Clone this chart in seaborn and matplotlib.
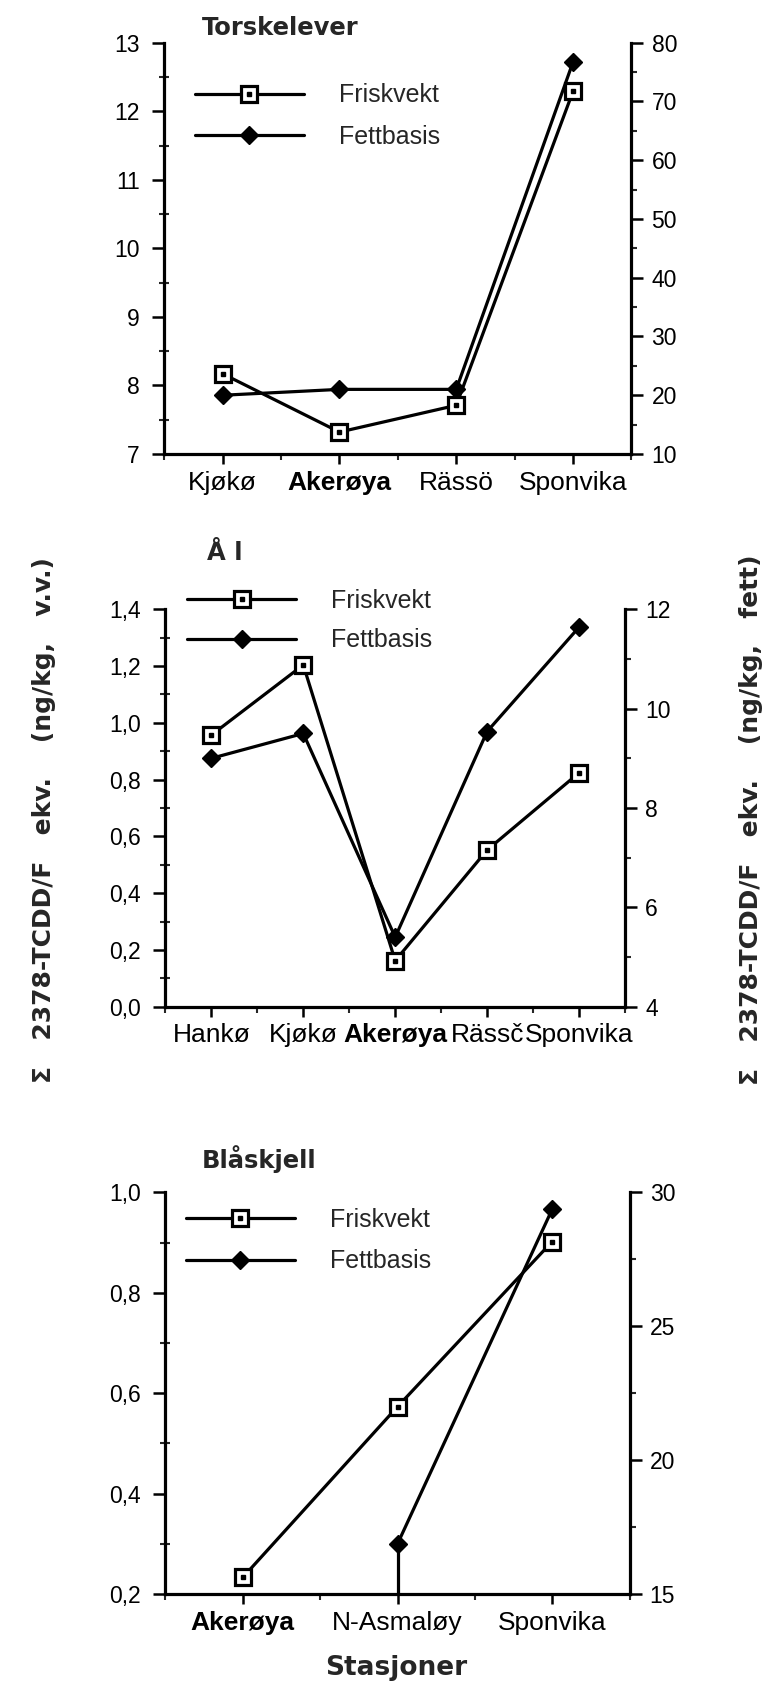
import numpy as np
import pandas as pd
import matplotlib
matplotlib.use("Agg")
import matplotlib.pyplot as plt
from matplotlib.ticker import MultipleLocator, FuncFormatter
import seaborn as sns

sns.set_theme(style="white")
plt.rcParams['font.family'] = ['Liberation Sans', 'DejaVu Sans']

# ---------------- data ----------------
tors_cats = ["Kjøkø", "Akerøya", "Rässö", "Sponvika"]
tors_frisk = [8.17, 7.32, 7.71, 12.29]
tors_fett = [20.0, 21.0, 21.0, 76.7]

aal_cats = ["Hankø", "Kjøkø", "Akerøya", "Rässč", "Sponvika"]
aal_frisk = [0.957, 1.204, 0.162, 0.552, 0.824]
aal_fett = [9.0, 9.5, 5.4, 9.54, 11.64]

blaa_cats = ["Akerøya", "N-Asmaløy", "Sponvika"]
blaa_frisk = [0.233, 0.573, 0.902]
blaa_fett = [np.nan, 16.87, 29.37]

titles = ["Torskelever", "Å l", "Blåskjell"]
series_names = ["Friskvekt", "Fettbasis"]
left_label = "Σ   2378-TCDD/F   ekv.    (ng/kg,   v.v.)"
right_label = "Σ   2378-TCDD/F   ekv.    (ng/kg,   fett)"
xlabel = "Stasjoner"

W, H = 763, 1697
fig = plt.figure(figsize=(W / 100, H / 100), dpi=100)


def frac_box(l, r, t, b):
    return [l / W, 1 - b / H, (r - l) / W, (b - t) / H]


panels = [
    dict(cats=tors_cats, frisk=tors_frisk, fett=tors_fett, box=(164.3, 631.4, 42.7, 454),
         ylim=(7, 13), ymaj=1, ymin=0.5, fmt=lambda v, p: f"{v:.0f}",
         y2lim=(10, 80), y2maj=10, y2min=5,
         leg=(0.065, 0.901), legsp=0.71,
         title_xy=(201.8, 35)),
    dict(cats=aal_cats, frisk=aal_frisk, fett=aal_fett, box=(165.4, 625, 609.3, 1006.7),
         ylim=(0.0, 1.4), ymaj=0.2, ymin=0.1, fmt=lambda v, p: f"{v:.1f}".replace('.', ','),
         y2lim=(4, 12), y2maj=2, y2min=1,
         leg=(0.048, 1.052), legsp=0.63,
         title_xy=(207, 560)),
    dict(cats=blaa_cats, frisk=blaa_frisk, fett=blaa_fett, box=(165.4, 629.6, 1192.3, 1594),
         ylim=(0.2, 1.0), ymaj=0.2, ymin=0.1, fmt=lambda v, p: f"{v:.1f}".replace('.', ','),
         y2lim=(15, 30), y2maj=5, y2min=2.5,
         leg=(0.044, 0.962), legsp=0.71,
         title_xy=(202, 1168)),
]

LW = 2.3
for i, P in enumerate(panels):
    ax = fig.add_axes(frac_box(*P["box"]))
    ax2 = ax.twinx()
    df = pd.DataFrame({"station": P["cats"], "frisk": P["frisk"], "fett": P["fett"]})
    n = len(P["cats"])

    sns.lineplot(data=df, x="station", y="frisk", ax=ax, sort=False, estimator=None,
                 color="black", lw=LW, marker="s", markersize=11,
                 markerfacecolor="white", markeredgecolor="black", markeredgewidth=2.3,
                 zorder=3)
    ax.plot(df["station"], df["frisk"], ls="none", marker="s", markersize=2.5,
            color="black", zorder=4)

    sns.lineplot(data=df, x="station", y="fett", ax=ax2, sort=False, estimator=None,
                 color="black", lw=LW, marker="D", markersize=9.5,
                 markerfacecolor="black", markeredgecolor="black", markeredgewidth=1,
                 zorder=3)
    if i == 2:
        # drop line from N-Asmaløy fettbasis point to the axis
        ax2.vlines(P["cats"][1], P["y2lim"][0], P["fett"][1], color="black", lw=LW)

    ax.set_xlim(-0.5, n - 0.5)
    ax.set_ylim(*P["ylim"])
    ax2.set_ylim(*P["y2lim"])
    ax.set_xlabel("")
    ax.set_ylabel("")
    ax2.set_ylabel("")

    for a in (ax, ax2):
        for s in a.spines.values():
            s.set_visible(False)
    ax.spines["left"].set_visible(True)
    ax.spines["bottom"].set_visible(True)
    ax2.spines["right"].set_visible(True)
    for s in (ax.spines["left"], ax.spines["bottom"], ax2.spines["right"]):
        s.set_linewidth(2.3)
        s.set_color("black")

    ax.yaxis.set_major_locator(MultipleLocator(P["ymaj"]))
    ax.yaxis.set_minor_locator(MultipleLocator(P["ymin"]))
    ax.yaxis.set_major_formatter(FuncFormatter(P["fmt"]))
    ax2.yaxis.set_major_locator(MultipleLocator(P["y2maj"]))
    ax2.yaxis.set_minor_locator(MultipleLocator(P["y2min"]))
    ax.xaxis.set_minor_locator(MultipleLocator(0.5))

    ax.tick_params(axis="y", which="major", direction="out", length=8.5, width=1.8,
                   labelsize=16.5, pad=9, left=True, colors="black")
    ax.tick_params(axis="y", which="minor", direction="inout", length=7, width=1.5, left=True)
    ax.tick_params(axis="x", which="major", direction="out", length=7, width=1.8,
                   labelsize=19, pad=5, bottom=True, colors="black")
    ax.tick_params(axis="x", which="minor", direction="out", length=4.5, width=1.5, bottom=True)
    ax2.tick_params(axis="y", which="major", direction="out", length=8.5, width=1.8,
                    labelsize=16.5, pad=6, right=True, colors="black")
    ax2.tick_params(axis="y", which="minor", direction="out", length=4.5, width=1.5, right=True)

    for lab in ax.get_xticklabels():
        if lab.get_text() == "Akerøya":
            lab.set_fontweight("bold")

    # legend
    l1 = ax.lines[0]
    d1 = ax.lines[1]
    l2 = ax2.lines[0]
    leg = ax.legend([(l1, d1), l2], series_names, loc="upper left",
                    bbox_to_anchor=P["leg"], frameon=False, fontsize=18,
                    handlelength=4.36, handletextpad=1.4, labelspacing=P["legsp"],
                    borderpad=0, borderaxespad=0)
    leg.set_zorder(10)

    fig.text(P["title_xy"][0] / W, 1 - P["title_xy"][1] / H, titles[i],
             fontsize=17.5, fontweight="bold", family="DejaVu Sans",
             ha="left", va="baseline")

# axis labels
fig.text(44 / W, 1 - 820 / H, left_label, rotation=90, fontsize=18,
         fontweight="bold", family="DejaVu Sans", ha="center", va="center")
fig.text(751 / W, 1 - 820 / H, right_label, rotation=90, fontsize=18,
         fontweight="bold", family="DejaVu Sans", ha="center", va="center")
fig.text(395.7 / W, 1 - 1675 / H, xlabel, fontsize=19, fontweight="bold",
         family="DejaVu Sans", ha="center", va="baseline")

fig.savefig("out.png", dpi=100)
